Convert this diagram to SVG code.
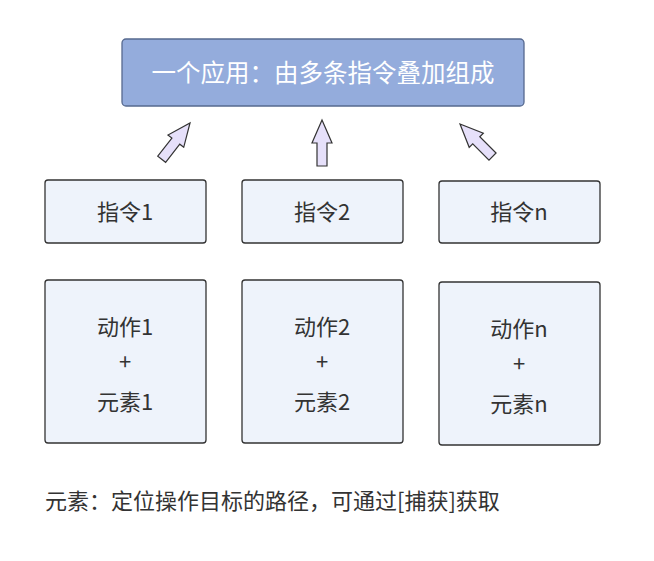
<svg xmlns="http://www.w3.org/2000/svg" width="654" height="561" viewBox="0 0 654 561">
<style>
text{font-family:"Noto Sans CJK SC","Noto Sans",sans-serif;font-size:22px;fill:#333;text-anchor:middle}
.b{fill:#eef3fb;stroke:#333;stroke-width:1.3}
.a{fill:#e6e0fa;stroke:#333;stroke-width:1.2}
</style>
<defs><path id="ar" d="M0,0 L10,23 L5,23 L5,46 L-5,46 L-5,23 L-10,23 Z"/></defs>
<rect width="654" height="561" fill="#fff"/>
<g id="app"><rect x="122" y="39" width="402" height="67" rx="4" fill="#94acdc" stroke="#56698f" stroke-width="1.3"/><text x="323" y="82" style="fill:#fff;font-size:24.5px">一个应用：由多条指令叠加组成</text></g>
<g id="connectors">
<use href="#ar" class="a" transform="translate(190,123) rotate(38)"/>
<use href="#ar" class="a" transform="translate(322,120)"/>
<use href="#ar" class="a" transform="translate(460,124) rotate(-45)"/>
</g>
<g id="c1"><rect class="b" x="45" y="180" width="161" height="63" rx="3"/><text x="125" y="220">指令1</text></g>
<g id="c2"><rect class="b" x="242" y="180" width="161" height="63" rx="3"/><text x="322" y="220">指令2</text></g>
<g id="cn"><rect class="b" x="439" y="181" width="161" height="62" rx="3"/><text x="519" y="220">指令n</text></g>
<g id="d1"><rect class="b" x="45" y="280" width="161" height="163" rx="3"/><text x="125" y="335">动作1</text><text x="125" y="370">+</text><text x="125" y="410">元素1</text></g>
<g id="d2"><rect class="b" x="242" y="280" width="161" height="163" rx="3"/><text x="322" y="335">动作2</text><text x="322" y="370">+</text><text x="322" y="410">元素2</text></g>
<g id="dn"><rect class="b" x="439" y="282" width="161" height="163" rx="3"/><text x="519" y="337">动作n</text><text x="519" y="372">+</text><text x="519" y="412">元素n</text></g>
<text x="45" y="509" style="text-anchor:start">元素：定位操作目标的路径，可通过[捕获]获取</text>
</svg>
